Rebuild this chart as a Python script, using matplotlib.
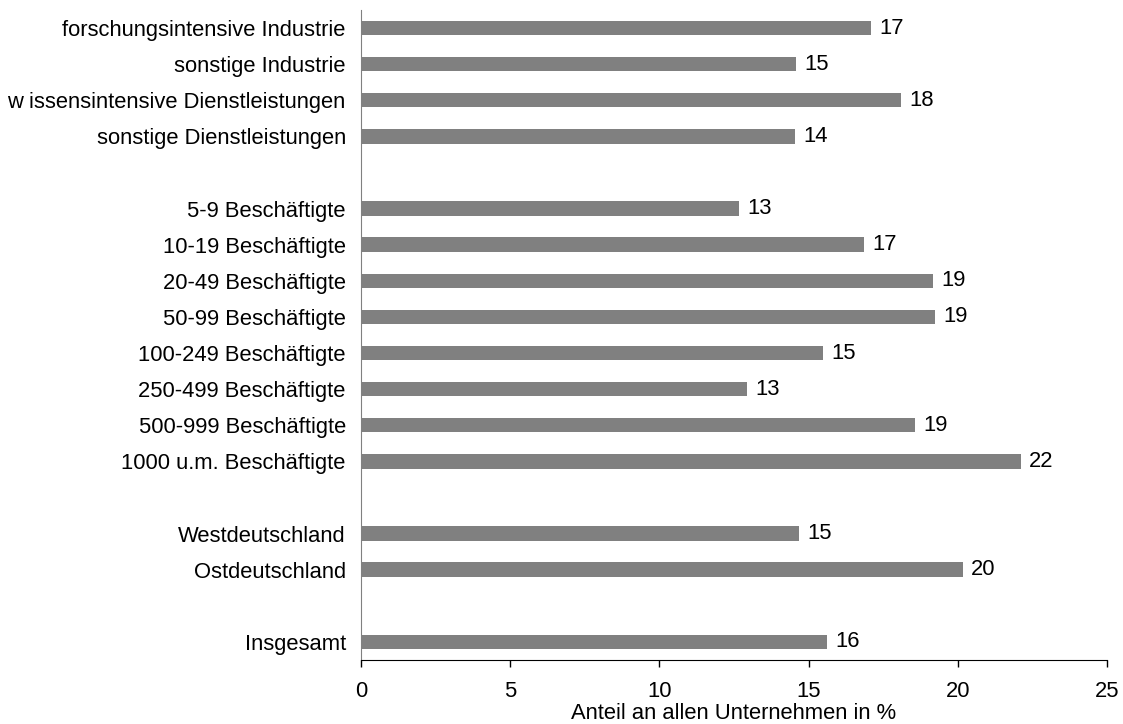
import matplotlib.pyplot as plt

plt.rcParams['font.family'] = ['Liberation Sans', 'DejaVu Sans']

# categories top to bottom; None marks an empty row between groups
categories = [
    "forschungsintensive Industrie",
    "sonstige Industrie",
    "w issensintensive Dienstleistungen",
    "sonstige Dienstleistungen",
    None,
    "5-9 Beschäftigte",
    "10-19 Beschäftigte",
    "20-49 Beschäftigte",
    "50-99 Beschäftigte",
    "100-249 Beschäftigte",
    "250-499 Beschäftigte",
    "500-999 Beschäftigte",
    "1000 u.m. Beschäftigte",
    None,
    "Westdeutschland",
    "Ostdeutschland",
    None,
    "Insgesamt",
]

values = [17.08, 14.56, 18.09, 14.53, None,
          12.65, 16.85, 19.16, 19.23, 15.47, 12.95, 18.56, 22.1, None,
          14.69, 20.17, None,
          15.62]

value_labels = ["17", "15", "18", "14", None,
                "13", "17", "19", "19", "15", "13", "19", "22", None,
                "15", "20", None,
                "16"]

FS = 15.8


def main():
    fig = plt.figure(figsize=(11.23, 7.24), dpi=100)
    ax = fig.add_axes([0.3215, 0.0884, 0.6643, 0.8978])

    n = len(categories)
    ypos = [n - 1 - i for i in range(n)]

    yt, yl = [], []
    for y, cat, v, lab in zip(ypos, categories, values, value_labels):
        if cat is None:
            continue
        ax.barh(y, v, height=0.4, color="#808080", zorder=2)
        ax.text(v + 0.28, y, lab, va="center", ha="left", fontsize=FS)
        yt.append(y)
        yl.append(cat)

    ax.set_yticks(yt)
    ax.set_yticklabels(yl, fontsize=FS)
    ax.tick_params(axis="y", length=0, pad=11)

    ax.set_xlim(0, 25)
    ax.set_ylim(-0.5, n - 0.5)
    ax.set_xticks([0, 5, 10, 15, 20, 25])
    ax.tick_params(axis="x", labelsize=FS, direction="out", length=5,
                   width=1, pad=10)
    ax.set_xlabel("Anteil an allen Unternehmen in %", fontsize=FS,
                  labelpad=1)

    ax.spines["top"].set_visible(False)
    ax.spines["right"].set_visible(False)
    ax.spines["left"].set_color("#808080")
    ax.spines["bottom"].set_color("black")

    fig.savefig("out.png", dpi=100)


if __name__ == "__main__":
    main()
